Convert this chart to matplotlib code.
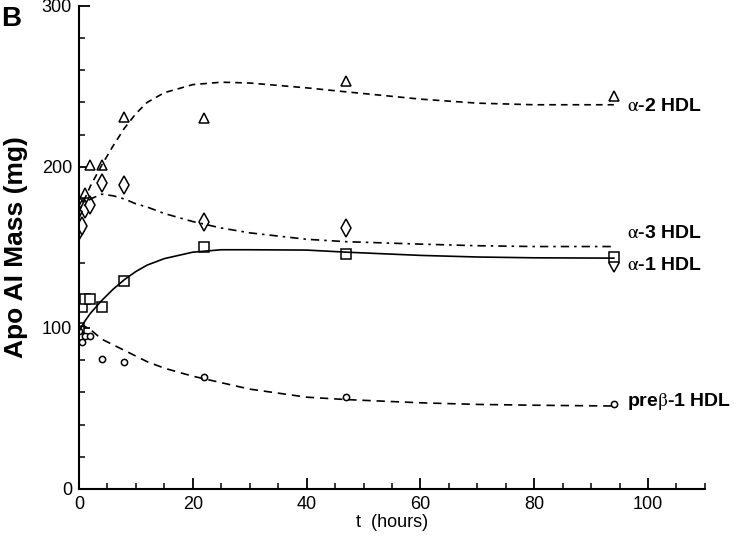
import numpy as np
import matplotlib
matplotlib.use('Agg')
import matplotlib.pyplot as plt

plt.rcParams['font.family'] = ['Liberation Sans', 'DejaVu Sans']
plt.rcParams['mathtext.fontset'] = 'stix'

# measured time points (hours)
t_obs = [0, 0.5, 1, 2, 4, 8, 22, 47, 94]
alpha2_obs = [165, 176, 184, 201, 201, 231, 230, 253, 244]
alpha3_obs = [160, 163, 174, 176, 190, 189, 166, 162, 140]
alpha1_obs = [100, 113, 118, 118, 113, 129, 150.5, 146, 144]
prebeta_obs = [98, 91, 95, 95, 80.5, 78.7, 69.8, 57, 52.8]

# fitted model curves
t_fit = [0, 1, 2, 4, 6, 8, 10, 12, 15, 20, 25, 30, 40, 47, 60, 70, 80, 94]
alpha2_fit = [172, 180, 188, 201, 213, 224, 233, 240, 246, 251, 252.5, 252, 249,
              246.5, 242, 239.5, 238.5, 238.5]
alpha3_fit = [168, 176, 180, 183, 182, 180, 177, 175, 171, 166, 162, 159, 155,
              153.5, 152, 151, 150.5, 150.5]
alpha1_fit = [98, 104, 109, 117, 124, 130, 135, 139, 143, 147, 148.5, 148.5,
              148.3, 147, 145, 144, 143.5, 143.3]
prebeta_fit = [101, 101, 99, 93, 89.5, 86, 82.5, 79, 75, 70, 66, 62, 57, 55.5,
               53.5, 52.5, 52, 51.5]

labels = [r'$\mathrm{\alpha}$-2 HDL', r'$\mathrm{\alpha}$-3 HDL',
          r'$\mathrm{\alpha}$-1 HDL', r'pre$\mathrm{\beta}$-1 HDL']
label_y = [237.5, 158.4, 138.5, 54.5]

fig = plt.figure(figsize=(7.36, 5.36), dpi=100)
ax = fig.add_axes([0.1073, 0.0877, 0.8505, 0.9017])

mk = dict(linestyle='none', markerfacecolor='white', markeredgecolor='black',
          markeredgewidth=1.1)
ax.plot(t_obs, alpha2_obs, marker='^', markersize=7, **mk)
ax.plot(t_obs, alpha3_obs, marker='d', markersize=9, **mk)
ax.plot(t_obs, alpha1_obs, marker='s', markersize=7, **mk)
ax.plot(t_obs, prebeta_obs, marker='o', markersize=4.5, **mk)

ax.plot(t_fit, alpha2_fit, color='black', lw=1.2, dashes=(4, 3))
ax.plot(t_fit, alpha3_fit, color='black', lw=1.2, dashes=(5, 3, 1.5, 3))
ax.plot(t_fit, alpha1_fit, color='black', lw=1.2)
ax.plot(t_fit, prebeta_fit, color='black', lw=1.2, dashes=(5, 3.5))

for lab, yv in zip(labels, label_y):
    ax.text(96.3, yv, lab, fontsize=14, fontweight='bold', va='center', ha='left',
            clip_on=False)

ax.set_xlim(0, 110)
ax.set_ylim(0, 300)
ax.set_xticks(np.arange(0, 101, 20))
ax.set_xticks(np.arange(0, 111, 5), minor=True)
ax.set_yticks(np.arange(0, 301, 100))
ax.set_yticks(np.arange(0, 301, 20), minor=True)

for side in ['top', 'right']:
    ax.spines[side].set_visible(False)
for side in ['left', 'bottom']:
    ax.spines[side].set_linewidth(1.5)

ax.tick_params(which='major', direction='in', length=8, width=1.3, labelsize=13,
               pad=5)
ax.tick_params(which='minor', direction='in', length=4, width=1.1)

ax.set_xlabel('t  (hours)', fontsize=13, labelpad=1)
ax.set_ylabel('Apo AI Mass (mg)', fontsize=19, fontweight='bold', labelpad=10)

fig.text(0.002, 0.988, 'B', fontsize=20, fontweight='bold', va='top', ha='left')

fig.savefig('out.png', dpi=100)
